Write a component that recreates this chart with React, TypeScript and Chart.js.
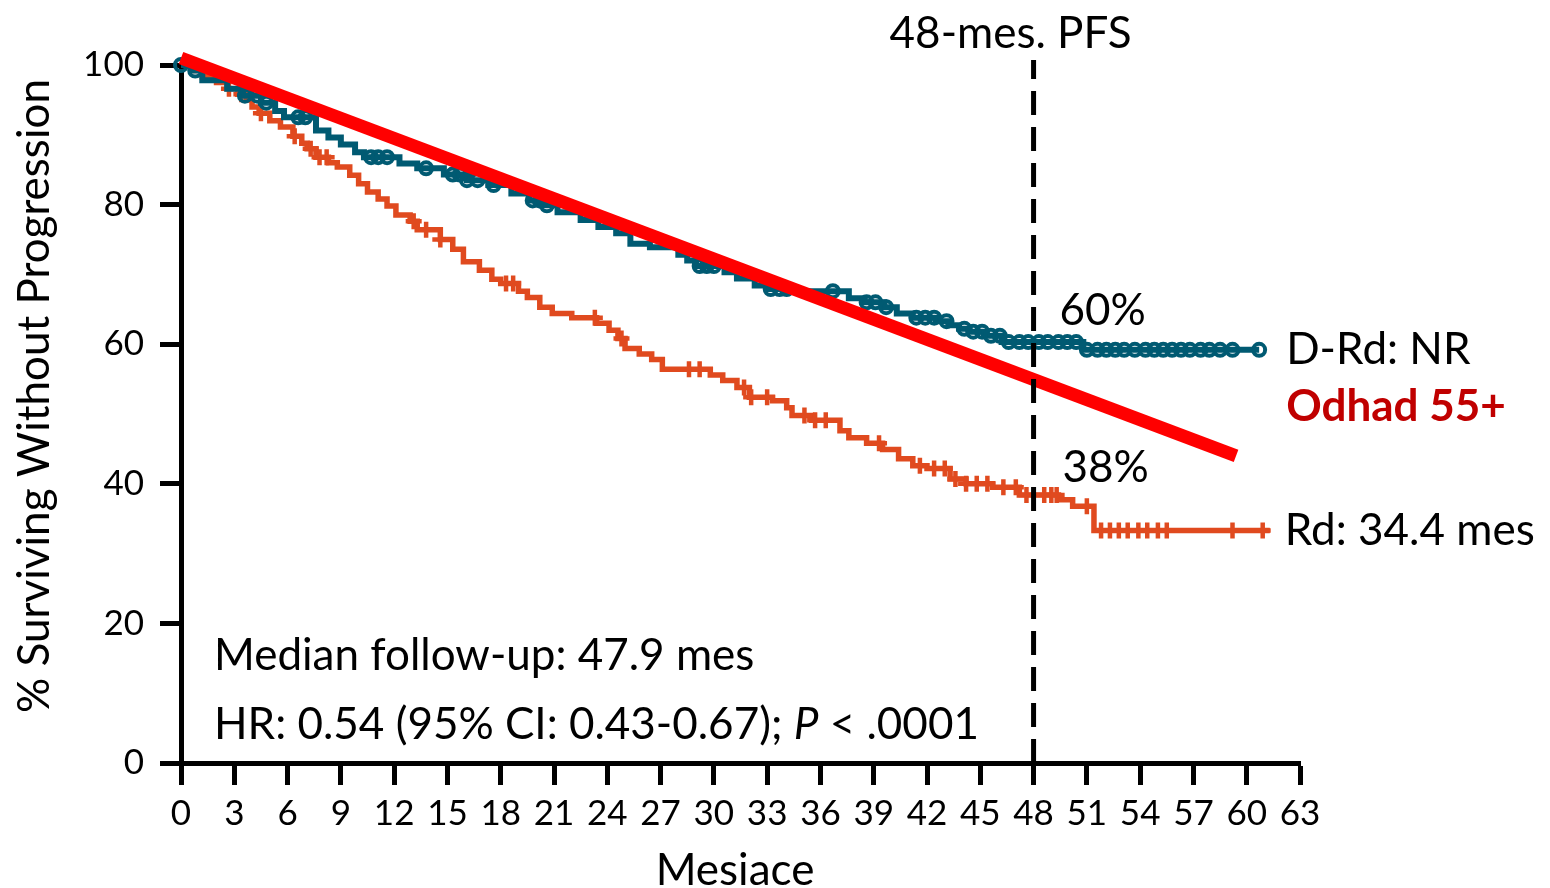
import { useEffect, useRef } from "react";
import { Chart, registerables } from "chart.js";

Chart.register(...registerables);

const FONT = "Lato, 'Noto Sans', sans-serif";
const TICK_SIZE = 35;
const TEXT_SIZE = 44;

const TEAL = "#005A72";
const ORANGE = "#E04A1F";
const TREND_RED = "#FF0000";
const NOTE_RED = "#C00000";

// axis ticks
const xTickValues = [0, 3, 6, 9, 12, 15, 18, 21, 24, 27, 30, 33, 36, 39, 42, 45, 48, 51, 54, 57, 60, 63];
const yTickValues = [0, 20, 40, 60, 80, 100];

// D-Rd Kaplan-Meier steps (month, % progression-free after the step)
const drdTimes = [0, 0.6, 1.2, 2.6, 3.5, 4.5, 5.3, 5.8, 7.6, 8.3, 9.0, 9.8, 10.3, 12.3, 13.3, 14.8, 16.1, 17.3, 18.6, 19.6, 20.3, 21.2, 22.5, 23.5, 24.5, 25.3, 26.4, 28.0, 28.5, 29.0, 30.6, 31.3, 32.3, 33.0, 34.7, 37.6, 38.5, 39.6, 40.3, 41.2, 42.5, 43.2, 43.8, 44.4, 45.2, 46.2, 50.8, 60.7];
const drdSurvival = [100, 99.2, 97.8, 96.6, 95.6, 94.6, 93.4, 92.5, 90.6, 89.6, 88.6, 87.5, 86.8, 85.9, 85.2, 84.3, 83.5, 82.8, 81.6, 80.6, 79.9, 78.9, 77.8, 76.8, 75.9, 74.4, 73.9, 72.8, 72.0, 71.2, 70.3, 69.4, 68.4, 67.9, 67.6, 66.6, 66.0, 65.3, 64.4, 63.8, 63.3, 62.7, 62.2, 61.8, 61.2, 60.3, 59.2, 59.2];
const drdCensored = [0, 0.8, 3.6, 4.3, 4.8, 6.6, 7.0, 10.7, 11.1, 11.6, 13.8, 15.3, 15.7, 16.1, 16.7, 17.6, 19.8, 20.2, 20.6, 29.2, 29.6, 30.0, 33.2, 33.7, 34.1, 36.7, 38.6, 39.1, 39.7, 41.4, 41.9, 42.4, 43.1, 44.1, 44.6, 45.1, 45.6, 46.1, 46.6, 47.2, 47.7, 48.3, 48.8, 49.4, 49.9, 50.4, 51.0, 51.6, 52.1, 52.6, 53.1, 53.7, 54.3, 54.8, 55.3, 55.8, 56.3, 56.8, 57.4, 57.9, 58.5, 59.2, 60.7];

// Rd Kaplan-Meier steps
const rdTimes = [0, 0.8, 1.2, 2.0, 2.6, 3.2, 3.7, 4.0, 4.4, 5.0, 5.6, 6.3, 6.8, 7.1, 7.6, 8.3, 8.8, 9.5, 10.0, 10.5, 11.1, 11.6, 12.1, 12.9, 13.3, 14.6, 15.3, 15.9, 16.8, 17.5, 18.0, 19.0, 19.5, 20.2, 20.9, 22.0, 23.4, 24.1, 24.6, 25.0, 25.8, 26.5, 27.1, 29.8, 30.5, 31.3, 32.0, 33.3, 34.1, 34.4, 35.5, 37.1, 37.6, 38.6, 39.5, 40.4, 41.2, 42.0, 43.3, 44.2, 45.7, 47.2, 49.4, 50.2, 51.4, 61.3];
const rdSurvival = [100, 99.2, 98.3, 97.5, 96.6, 95.8, 95.0, 94.0, 93.1, 92.0, 91.1, 89.8, 88.8, 88.0, 86.8, 86.0, 85.4, 84.2, 83.0, 81.8, 80.8, 79.8, 78.5, 77.6, 76.4, 75.0, 73.6, 71.8, 70.6, 69.3, 68.7, 67.6, 66.7, 65.3, 64.4, 63.8, 63.0, 62.0, 60.8, 59.4, 58.6, 57.8, 56.4, 55.6, 54.8, 53.8, 52.4, 51.9, 50.9, 49.8, 49.1, 47.6, 46.6, 45.8, 44.9, 43.6, 42.6, 42.2, 40.7, 40.0, 39.5, 38.4, 37.7, 36.8, 33.3, 33.3];
const rdCensored = [2.7, 3.4, 4.5, 6.4, 7.3, 7.8, 8.2, 13.1, 13.8, 14.6, 18.3, 18.7, 23.3, 24.8, 28.6, 29.2, 31.7, 32.1, 33.0, 35.1, 35.7, 36.3, 39.3, 41.6, 42.4, 43.0, 43.6, 44.2, 44.8, 45.4, 46.3, 47.0, 47.6, 48.6, 49.0, 49.3, 51.0, 51.8, 52.3, 52.8, 53.3, 53.9, 54.4, 55.0, 55.5, 59.2, 60.9];

// straight-line estimate drawn over the curves
const trendMonths = [0, 59.4];
const trendValues = [101, 44];

const landmarkMonth = 48;
const landmarkTop = 100.7;

const landmarkTitle = "48-mes. PFS";
const drdLabel = "D-Rd: NR";
const trendLabel = "Odhad 55+";
const rdLabel = "Rd: 34.4 mes";
const followUpText = "Median follow-up: 47.9 mes";
const hrTextParts = ["HR: 0.54 (95% CI: 0.43-0.67); ", "P", " < .0001"];
const xTitle = "Mesiace";
const yTitle = "% Surviving Without Progression";

type Pt = { x: number; y: number };

function survivalAt(times: number[], values: number[], t: number): number {
  let v = values[0];
  for (let i = 0; i < times.length; i++) {
    if (times[i] <= t) v = values[i];
    else break;
  }
  return v;
}

function stepPoints(times: number[], values: number[]): Pt[] {
  return times.map((t, i) => ({ x: t, y: values[i] }));
}

function censorPoints(censored: number[], times: number[], values: number[]): Pt[] {
  return censored.map((t) => ({ x: t, y: survivalAt(times, values, t) }));
}

const textPlugin = {
  id: "kmText",
  afterDatasetsDraw(chart: any) {
    const { ctx } = chart;
    const xs = chart.scales.x;
    const ys = chart.scales.y;
    const px = (v: number) => xs.getPixelForValue(v);
    const py = (v: number) => ys.getPixelForValue(v);

    ctx.save();
    ctx.fillStyle = "#000";
    ctx.textBaseline = "middle";
    ctx.font = `${TEXT_SIZE}px ${FONT}`;

    // landmark heading
    ctx.textAlign = "center";
    ctx.fillText(landmarkTitle, px(landmarkMonth) - 23, 34);

    // landmark values
    ctx.textAlign = "left";
    const drd48 = survivalAt(drdTimes, drdSurvival, landmarkMonth);
    const rd48 = survivalAt(rdTimes, rdSurvival, landmarkMonth);
    ctx.fillText(`${Math.round(drd48)}%`, px(landmarkMonth) + 26, py(drd48) - 31);
    ctx.fillText(`${Math.round(rd48)}%`, px(landmarkMonth) + 29, py(rd48) - 27);

    // curve end labels
    const drdEndX = drdCensored[drdCensored.length - 1];
    const rdEndX = rdCensored[rdCensored.length - 1];
    const drdEndY = survivalAt(drdTimes, drdSurvival, drdEndX);
    const rdEndY = survivalAt(rdTimes, rdSurvival, rdEndX);
    ctx.fillText(drdLabel, px(drdEndX) + 27, py(drdEndY));
    ctx.fillText(rdLabel, px(rdEndX) + 22, py(rdEndY));

    ctx.font = `bold ${TEXT_SIZE}px ${FONT}`;
    ctx.fillStyle = NOTE_RED;
    ctx.fillText(trendLabel, px(drdEndX) + 27, py(drdEndY) + 57);

    // study notes
    ctx.fillStyle = "#000";
    ctx.font = `${TEXT_SIZE}px ${FONT}`;
    ctx.fillText(followUpText, 214, 656);
    let hx = 214;
    hrTextParts.forEach((part, i) => {
      ctx.font = i === 1 ? `italic ${TEXT_SIZE}px ${FONT}` : `${TEXT_SIZE}px ${FONT}`;
      ctx.fillText(part, hx, 725);
      hx += ctx.measureText(part).width;
    });

    // axis titles
    ctx.font = `${TEXT_SIZE}px ${FONT}`;
    ctx.textAlign = "center";
    ctx.fillText(xTitle, 735, 871);
    ctx.translate(35, 396);
    ctx.rotate(-Math.PI / 2);
    ctx.fillText(yTitle, 0, 0);
    ctx.restore();
  },
};

export default function App() {
  const canvasRef = useRef<HTMLCanvasElement>(null);

  useEffect(() => {
    document.body.style.margin = "0";
    const canvas = canvasRef.current;
    if (!canvas) return;

    const axisCommon = {
      border: { display: true, color: "#000", width: 5 },
      ticks: {
        color: "#000",
        font: { family: FONT, size: TICK_SIZE },
        autoSkip: false,
        maxRotation: 0,
      },
    };

    const chart = new Chart(canvas, {
      type: "line",
      data: {
        datasets: [
          {
            label: "48-month landmark",
            data: [
              { x: landmarkMonth, y: 0 },
              { x: landmarkMonth, y: landmarkTop },
            ],
            borderColor: "#000",
            borderWidth: 5,
            borderDash: [24, 12],
            pointRadius: 0,
            clip: false,
            order: 0,
          },
          {
            label: "Odhad",
            data: trendMonths.map((m, i) => ({ x: m, y: trendValues[i] })),
            borderColor: TREND_RED,
            borderWidth: 13,
            borderCapStyle: "butt",
            pointRadius: 0,
            clip: false,
            order: 1,
          },
          {
            label: "D-Rd censored",
            data: censorPoints(drdCensored, drdTimes, drdSurvival),
            showLine: false,
            pointStyle: "circle",
            pointRadius: 6,
            pointBorderWidth: 4,
            pointBorderColor: TEAL,
            pointBackgroundColor: "rgba(255,255,255,0)",
            clip: false,
            order: 2,
          },
          {
            label: "D-Rd",
            data: stepPoints(drdTimes, drdSurvival),
            stepped: true,
            borderColor: TEAL,
            borderWidth: 6,
            pointRadius: 0,
            clip: false,
            order: 3,
          },
          {
            label: "Rd censored",
            data: censorPoints(rdCensored, rdTimes, rdSurvival),
            showLine: false,
            pointStyle: "cross",
            pointRadius: 8,
            pointBorderWidth: 4.5,
            pointBorderColor: ORANGE,
            clip: false,
            order: 4,
          },
          {
            label: "Rd",
            data: stepPoints(rdTimes, rdSurvival),
            stepped: true,
            borderColor: ORANGE,
            borderWidth: 5.5,
            pointRadius: 0,
            clip: false,
            order: 5,
          },
        ],
      },
      options: {
        animation: false,
        responsive: false,
        devicePixelRatio: 1,
        layout: { padding: { left: 0, top: 65, right: 250, bottom: 0 } },
        plugins: {
          legend: { display: false },
          tooltip: { enabled: false },
        },
        scales: {
          x: {
            ...axisCommon,
            type: "linear",
            min: 0,
            max: 63,
            afterBuildTicks: (scale: any) => {
              scale.ticks = xTickValues.map((v) => ({ value: v }));
            },
            afterFit: (scale: any) => {
              scale.height = 125;
            },
            grid: {
              drawOnChartArea: false,
              drawTicks: true,
              tickLength: 22,
              tickWidth: 5,
              tickColor: "#000",
            },
            ticks: { ...axisCommon.ticks, padding: 8 },
          },
          y: {
            ...axisCommon,
            type: "linear",
            min: 0,
            max: 100,
            afterBuildTicks: (scale: any) => {
              scale.ticks = yTickValues.map((v) => ({ value: v }));
            },
            afterFit: (scale: any) => {
              scale.width = 181;
            },
            grid: {
              drawOnChartArea: false,
              drawTicks: true,
              tickLength: 21,
              tickWidth: 5,
              tickColor: "#000",
            },
            ticks: { ...axisCommon.ticks, padding: 16 },
          },
        },
      },
      plugins: [textPlugin],
    } as any);

    return () => chart.destroy();
  }, []);

  return <canvas ref={canvasRef} width={1550} height={888} style={{ display: "block" }} />;
}
